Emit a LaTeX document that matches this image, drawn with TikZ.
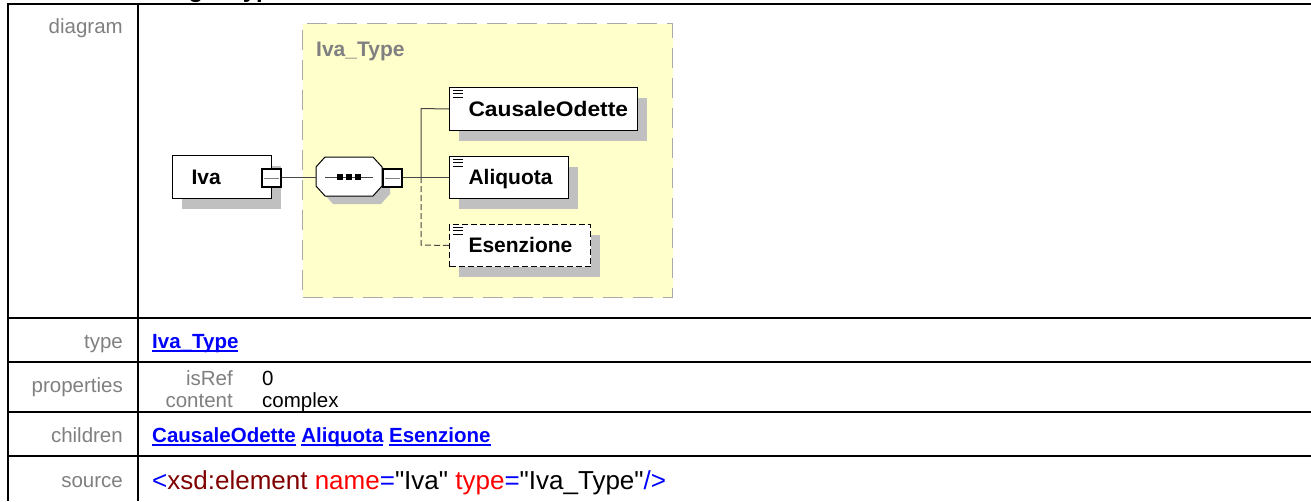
\documentclass[tikz,border=0pt]{standalone}
\usepackage{fontspec}
\usepackage{graphicx}
\setmainfont{Liberation Sans}
\newfontfamily\srcfont{Liberation Sans}
\usetikzlibrary{shadows}
\definecolor{lbl}{RGB}{128,128,128}
\definecolor{lnk}{RGB}{0,0,255}
\definecolor{yel}{RGB}{255,255,204}
\definecolor{yelb}{RGB}{170,170,170}
\definecolor{shadowgray}{RGB}{192,192,192}
\definecolor{conn}{RGB}{70,70,70}
\definecolor{xdark}{RGB}{128,0,0}
\definecolor{xred}{RGB}{255,0,0}
\newcommand\fsz[1]{\fontsize{#1}{#1}\selectfont}
\newcommand\ulnk[1]{\setbox0\hbox{\bfseries #1}\rlap{\rule[-3.5pt]{\wd0}{1.8pt}}\box0\relax}
\tikzset{
  tline/.style={line width=2pt,black},
  lab/.style={anchor=base east,inner sep=0pt,text=lbl,font=\fsz{20.5}},
  val/.style={anchor=base west,inner sep=0pt,font=\fsz{20.5}},
  dshadow/.style={drop shadow={shadow xshift=9pt,shadow yshift=-10pt,fill=shadowgray,opacity=1}},
  elbox/.style={draw=black,line width=1pt,fill=white,anchor=north west,inner xsep=19pt,inner ysep=0pt,
    text height=14pt,text depth=0pt,font=\fsz{21}\bfseries,align=left,dshadow},
  optbox/.style={elbox,dash pattern=on 6pt off 3pt},
  pmsq/.style={draw=black,line width=2.2pt,fill=white,minimum width=19pt,minimum height=18pt,inner sep=0pt},
  conn/.style={draw=conn,line width=1pt},
  optconn/.style={conn,dash pattern=on 6pt off 3pt},
  icon/.style={draw=black,line width=0.8pt},
}
\begin{document}
\begin{tikzpicture}[x=1pt,y=-1pt]
\useasboundingbox (0,0) rectangle (1311,501);
\fill[white] (0,0) rectangle (1311,501);
% clipped heading (only descenders visible)
\begin{scope}
\clip (0,0) rectangle (1311,501);
\node[anchor=base west,inner sep=0pt,font=\fsz{24}\bfseries] (head) at (67,-3) {element Riga\_Type/Iva};
\end{scope}
% table lines
\draw[tline] (8,4) -- (1311,4);
\draw[tline] (8,318) -- (1311,318);
\draw[tline] (8,362) -- (1311,362);
\draw[tline] (8,412) -- (1311,412);
\draw[tline] (8,456) -- (1311,456);
\draw[tline] (8,3) -- (8,501);
\draw[tline] (138,3) -- (138,501);
% labels
\node[lab] (ldiag) at (123,33) {diagram};
\node[lab] (ltype) at (123,348) {type};
\node[lab] (lprop) at (123,392) {properties};
\node[lab] (lchild) at (123,442) {children};
\node[lab] (lsrc) at (123,487) {source};
% values
\node[val,text=lnk] (vtype) at (152,348) {\ulnk{Iva\_Type}};
\node[lab] (lisref) at (233,385) {isRef};
\node[val] (visref) at (262,385) {0};
\node[lab] (lcont) at (233,407) {content};
\node[val] (vcont) at (262,407) {complex};
\node[val,text=lnk] (vchild) at (152,442) {\ulnk{CausaleOdette} \ulnk{Aliquota} \ulnk{Esenzione}};
\node[val,font=\srcfont\fsz{26}] (vsrc) at (152,489) {{\color{lnk}<}{\color{xdark}xsd:element} {\color{xred}name}{\color{lnk}=}"Iva" {\color{xred}type}{\color{lnk}=}"Iva\_Type"{\color{lnk}/>}};
% type box
\node[draw=yelb,fill=yel,line width=1.2pt,dash pattern=on 20pt off 10pt,anchor=north west,
  minimum width=370pt,minimum height=274pt,inner sep=0pt] (tbox) at (302,23) {};
\node[anchor=base west,inner sep=0pt,text=lbl,font=\fsz{21}\bfseries] (tlabel) at (316,56) {Iva\_Type};
% Iva element
\node[elbox,text width=61pt,minimum height=43pt,inner xsep=19pt] (iva) at (172,155) {Iva};
\node[pmsq] (ivasq) at (271.5,178) {};
\draw[draw=lbl,line width=1pt] ([xshift=3pt]ivasq.west) -- ([xshift=-3pt]ivasq.east);
% sequence compositor
\coordinate (seq) at (349,176.5);
\fill[shadowgray] (324,175) -- (333,165) -- (381,165) -- (390,175) -- (390,194) -- (381,204) -- (333,204) -- (324,194) -- cycle;
\draw[black,line width=1pt,fill=white] (316,167) coordinate (seqw) -- (325,157) -- (373,157) -- (382,167)
  -- (382,186) coordinate (seqe) -- (373,196) -- (325,196) -- (316,186) -- cycle;
\draw[conn] (325,177) coordinate (sqa) -- (373,177) coordinate (sqb);
\foreach \xx in {340,349,358}{\fill[black] (\xx-3,174) rectangle (\xx+3,180);}
\node[pmsq] (seqsq) at (392.5,178) {};
\draw[draw=lbl,line width=1pt] ([xshift=3pt]seqsq.west) -- ([xshift=-3pt]seqsq.east);
% children
\node[elbox,text width=150pt,minimum height=43pt] (cau) at (449,87) {\scalebox{1.085}[1]{CausaleOdette}};
\node[elbox,text width=81pt,minimum height=42pt] (ali) at (449,156) {Aliquota};
\node[optbox,text width=103pt,minimum height=42pt] (ese) at (449,224) {Esenzione};
\foreach \bx in {cau,ali,ese}{
  \draw[icon] ([shift={(4,3)}]\bx.north west) -- ([shift={(14,3)}]\bx.north west);
  \draw[icon] ([shift={(4,6.5)}]\bx.north west) -- ([shift={(14,6.5)}]\bx.north west);
  \draw[icon] ([shift={(4,10)}]\bx.north west) -- ([shift={(14,10)}]\bx.north west);
}
% connectors
\coordinate (j1) at (421,108.5);
\coordinate (j2) at (421,177);
\coordinate (j3) at (421,245);
\draw[conn] (ivasq.east |- 0,177) -- (316,177);
\draw[conn] (seqsq.east |- 0,177) -- (ali.west |- 0,177);
\draw[conn] (cau.west) -- (j1) -- (j2);
\draw[optconn] (j2) -- (j3) -- (ese.west);
\end{tikzpicture}
\end{document}
